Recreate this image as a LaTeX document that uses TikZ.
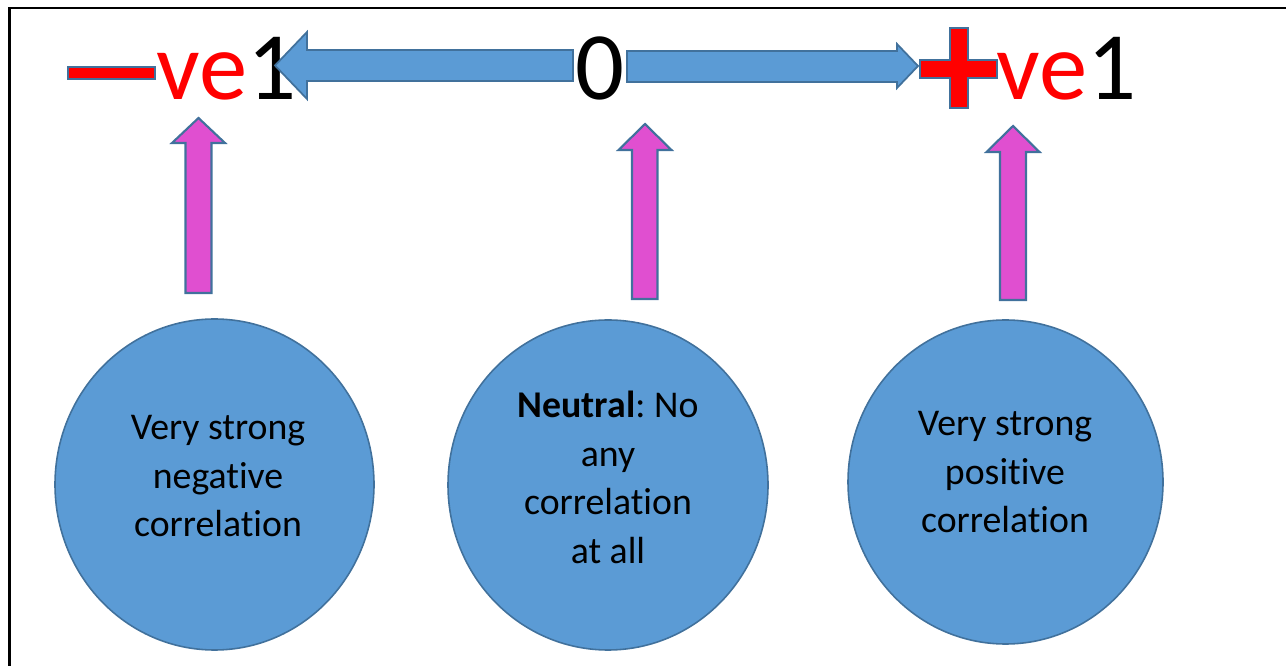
\documentclass[tikz,border=0pt]{standalone}
\usepackage{fontspec}
\setmainfont{Carlito}[Ligatures=NoCommon]
\usepackage{xcolor}
\usepackage{tikz}
\usetikzlibrary{shapes.geometric, positioning}
\definecolor{cfill}{HTML}{5B9BD5}
\definecolor{cline}{HTML}{41719C}
\definecolor{cpink}{HTML}{E04FD0}
\definecolor{cred}{HTML}{FF0000}
\frenchspacing

\begin{document}
\begin{tikzpicture}[
    bubble/.style={
        ellipse, draw=cline, line width=0.9pt, fill=cfill, inner sep=0pt
    },
    bubtext/.style={
        align=center, inner sep=0pt, font=\fontsize{21.5}{27.6}\selectfont
    },
    bigtext/.style={inner sep=0pt, font=\fontsize{55}{60}\selectfont},
    bluearr/.style={draw=cline, line width=1pt, fill=cfill},
    pinkarr/.style={draw=cline, line width=1.2pt, fill=cpink},
    signbar/.style={draw=cline, line width=1pt, fill=cred},
]

% =====================================================================
% Page frame (only top and left edges are visible)
% =====================================================================
\useasboundingbox (0,0) rectangle (25.72,-13.32);
\draw[line width=1.4pt] (0.19,-13.32) -- (0.19,-0.155) -- (25.72,-0.155);

% --- Scale labels across the top ------------------------------------
\node[bigtext, anchor=base]      (zero)  at (12.00,-2.00) {0};
\node[bigtext, anchor=base west] (negve) at ( 3.12,-2.00) {\textcolor{cred}{ve}1};
\node[bigtext, anchor=base west] (posve) at (19.93,-2.00) {\textcolor{cred}{ve}1};

% minus and plus signs drawn as shapes
\node[signbar, rectangle, minimum width=1.74cm, minimum height=0.24cm]
    (minus) at (2.23,-1.46) {};
\draw[signbar] (19.00,-0.56) -- (19.36,-0.56) -- (19.36,-1.20) -- (19.94,-1.20)
    -- (19.94,-1.56) -- (19.36,-1.56) -- (19.36,-2.16) -- (19.00,-2.16)
    -- (19.00,-1.56) -- (18.40,-1.56) -- (18.40,-1.20) -- (19.00,-1.20) -- cycle;

% --- Block arrows from 0 out to -1 and +1 ---------------------------
\draw[bluearr] (11.46,-1.00) -- (6.14,-1.00) -- (6.14,-0.64) -- (5.50,-1.31)
    -- (6.14,-1.98) -- (6.14,-1.62) -- (11.46,-1.62) -- cycle;
\draw[bluearr] (12.54,-1.02) -- (17.94,-1.02) -- (17.94,-0.88) -- (18.36,-1.32)
    -- (17.94,-1.76) -- (17.94,-1.64) -- (12.54,-1.64) -- cycle;

% =====================================================================
% Bubbles along the bottom
% =====================================================================
\node[bubble, minimum width=6.38cm, minimum height=6.62cm] (negcirc) at ( 4.29,-9.69) {};
\node[bubble, minimum width=6.40cm, minimum height=6.60cm] (neucirc) at (12.16,-9.70) {};
\node[bubble, minimum width=6.30cm, minimum height=6.48cm] (poscirc) at (20.11,-9.64) {};

\node[bubtext] (negtxt) at ( 4.36,-9.53) {Very strong\\negative\\correlation};
\node[bubtext] (neutxt) at (12.16,-9.55) {\textbf{Neutral}: No\\any\\correlation\\at all};
\node[bubtext] (postxt) at (20.10,-9.45) {Very strong\\positive\\correlation};

% --- Pink up arrows (bubble -> scale value) -------------------------
\draw[pinkarr] (3.71,-5.86) -- (3.71,-2.86) -- (3.44,-2.86) -- (3.97,-2.36)
    -- (4.50,-2.86) -- (4.23,-2.86) -- (4.23,-5.86) -- cycle;
\draw[pinkarr] (12.64,-5.98) -- (12.64,-3.00) -- (12.37,-3.00) -- (12.90,-2.48)
    -- (13.43,-3.00) -- (13.15,-3.00) -- (13.15,-5.98) -- cycle;
\draw[pinkarr] (20.00,-6.00) -- (20.00,-3.04) -- (19.73,-3.04) -- (20.26,-2.52)
    -- (20.79,-3.04) -- (20.52,-3.04) -- (20.52,-6.00) -- cycle;

\end{tikzpicture}
\end{document}
